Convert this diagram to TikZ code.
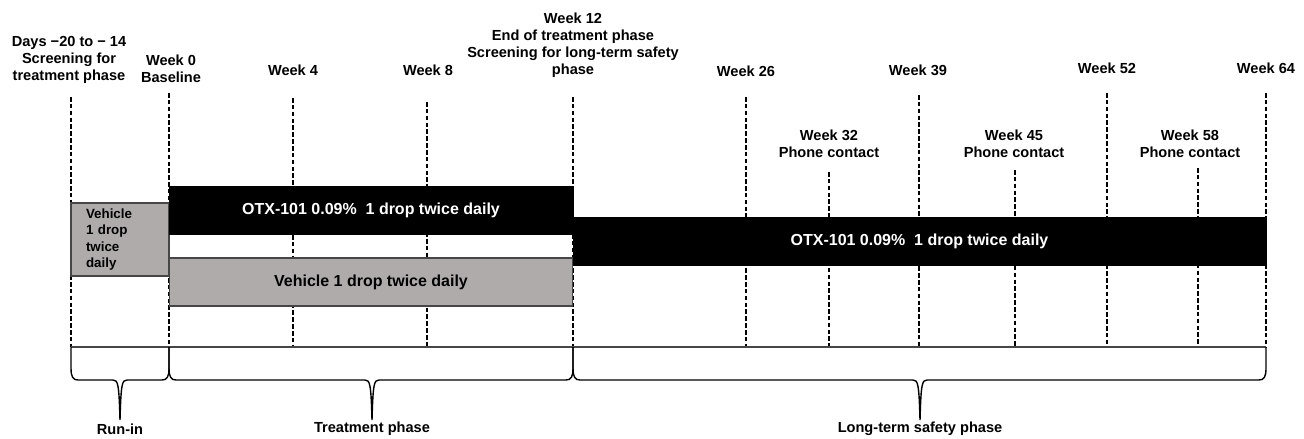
\documentclass[tikz,border=0pt]{standalone}
\usepackage{fontspec}
\setmainfont{Liberation Sans}

\definecolor{vehgray}{RGB}{175,171,171}
\definecolor{edgegray}{RGB}{70,70,70}

% curly brace under a phase: left end, tip, right end
\newcommand{\phasebrace}[3]{%
  \draw[bracepath] (#1,347) -- (#1,368) .. controls (#1,377) and ({#1+2},380) .. ({#1+7},380)
    -- ({#2-7},380) .. controls ({#2-2},380) and ({#2-1},384) .. (#2,420)
    .. controls ({#2+1},384) and ({#2+2},380) .. ({#2+7},380)
    -- ({#3-7},380) .. controls ({#3-2},380) and (#3,377) .. (#3,368) -- (#3,347);}

\begin{document}
\begin{tikzpicture}[x=0.02cm,y=-0.02cm,
    lbl/.style={font=\fontsize{8.3}{9.7}\selectfont\bfseries,align=center,inner sep=0pt},
    guide/.style={dash pattern=on 2.6pt off 1.3pt,line width=0.85pt},
    blackbar/.style={fill=black,draw=black,text=white,font=\fontsize{9.1}{11}\selectfont\bfseries,minimum height=0.96cm,inner sep=0pt},
    graybar/.style={fill=vehgray,draw=edgegray,line width=0.6pt,font=\fontsize{9.1}{11}\selectfont\bfseries,minimum height=0.96cm,inner sep=0pt},
    bracepath/.style={line width=0.8pt}]
		\useasboundingbox (0,0) rectangle (1304,439);

		% time points
		\node[lbl] (days) at (69,59.5) {Days −20 to − 14\\Screening for\\treatment phase};
		\node[lbl] (wk0) at (171,68.5) {Week 0\\Baseline};
		\node[lbl] (wk4) at (293,70) {Week 4};
		\node[lbl] (wk8) at (428,70) {Week 8};
		\node[lbl] (wk12) at (573,45.5) {Week 12\\End of treatment phase\\Screening for long-term safety\\phase};
		\node[lbl] (wk26) at (746,71) {Week 26};
		\node[lbl] (wk39) at (918,70) {Week 39};
		\node[lbl] (wk52) at (1107,68) {Week 52};
		\node[lbl] (wk64) at (1266,68) {Week 64};
		\node[lbl] (wk32) at (829,143.5) {Week 32\\Phone contact};
		\node[lbl] (wk45) at (1014,143.5) {Week 45\\Phone contact};
		\node[lbl] (wk58) at (1190,143.5) {Week 58\\Phone contact};

		\foreach \px/\py in {71/97,169/93,293/98,427/102,573/97,746/97,919/95,1107/93,1266/93,829/172,1015/170,1198/168}
			\draw[guide] (\px,\py) -- (\px,347);

		\draw[edgegray,line width=0.6pt] (71,347) -- (1266,347);

		% dosing bars
		\node[graybar,minimum width=1.96cm,minimum height=1.46cm,text width=1.36cm,inner xsep=0.3cm,align=left,font=\fontsize{7.6}{9.4}\selectfont\bfseries] (runbox) at (120,239.5) {Vehicle\\1 drop\\twice\\daily};
		\node[blackbar,minimum width=8.08cm] (otx1) at (371,210) {OTX-101 0.09\%~ 1 drop twice daily};
		\node[graybar,minimum width=8.08cm] (veh) at (371,282) {Vehicle 1 drop twice daily};
		\node[blackbar,minimum width=13.86cm] (otx2) at (919.5,241) {OTX-101 0.09\%~ 1 drop twice daily};

		% phases
		\phasebrace{71}{120}{169}
		\phasebrace{169}{372}{573}
		\phasebrace{573}{920}{1266}
		\node[lbl] (runin) at (120,429) {Run-in};
		\node[lbl] (treat) at (372,429) {Treatment phase};
		\node[lbl] (safety) at (920,429) {Long-term safety phase};
\end{tikzpicture}
\end{document}
